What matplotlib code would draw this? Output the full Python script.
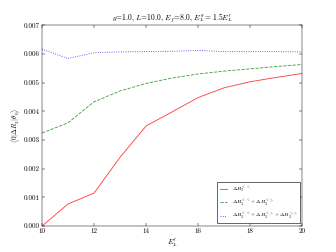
import matplotlib
matplotlib.use("Agg")
import matplotlib.pyplot as plt

plt.rcParams['font.family'] = 'serif'
plt.rcParams['font.serif'] = ['cmr10']
plt.rcParams['mathtext.fontset'] = 'cm'
plt.rcParams['axes.unicode_minus'] = False
plt.rcParams['xtick.direction'] = 'in'
plt.rcParams['ytick.direction'] = 'in'
plt.rcParams['xtick.top'] = True
plt.rcParams['ytick.right'] = True

E_L = [10, 11, 12, 13, 14, 15, 16, 17, 18, 19, 20]
h_ll = [0.0000, 0.00077, 0.00115, 0.00240, 0.00349, 0.00398, 0.00448, 0.00482, 0.00503, 0.00518, 0.00532]
h_ll_lg = [0.00324, 0.00360, 0.00433, 0.00471, 0.00497, 0.00516, 0.00530, 0.00540, 0.00548, 0.00556, 0.00563]
h_all = [0.00616, 0.00584, 0.00604, 0.00607, 0.00608, 0.00609, 0.00612, 0.00608, 0.00608, 0.00608, 0.00607]

labels = [r'$\Delta H_3^{<<}$',
          r'$\Delta H_3^{<<}+\Delta H_3^{<>}$',
          r'$\Delta H_3^{<<}+\Delta H_3^{<>}+\Delta H_3^{>>}$']

fig = plt.figure(figsize=(8, 6), dpi=42)
ax = fig.add_axes([0.125, 0.103, 0.775, 0.797])
ax.plot(E_L, h_ll, '-', color='red', alpha=0.75, lw=1.5, label=labels[0])
ax.plot(E_L, h_ll_lg, '--', color='green', alpha=0.75, lw=1.5, label=labels[1])
ax.plot(E_L, h_all, ':', color='blue', alpha=0.75, lw=1.5, label=labels[2])

ax.set_xlim(10, 20)
ax.set_ylim(0, 0.007)
ax.set_xticks([10, 12, 14, 16, 18, 20])
ax.set_yticks([0.000, 0.001, 0.002, 0.003, 0.004, 0.005, 0.006, 0.007])
ax.set_yticklabels(['0.000', '0.001', '0.002', '0.003', '0.004', '0.005', '0.006', '0.007'])
ax.tick_params(labelsize=12, length=5)
ax.set_xlabel(r"$E_L^{\prime}$", fontsize=13)
ax.set_ylabel(r"$\langle 0|\Delta R_3|\theta_0\rangle$", fontsize=12)
ax.set_title(r"$g$=1.0, $L$=10.0, $E_f$=8.0, $E_L^{\prime\prime}=1.5E_L^{\prime}$", fontsize=13)
leg = ax.legend(loc='lower right', fontsize=9, handlelength=1.5, fancybox=False, framealpha=1)
leg.get_frame().set_edgecolor('black')

fig.savefig('out.png', dpi=42)
